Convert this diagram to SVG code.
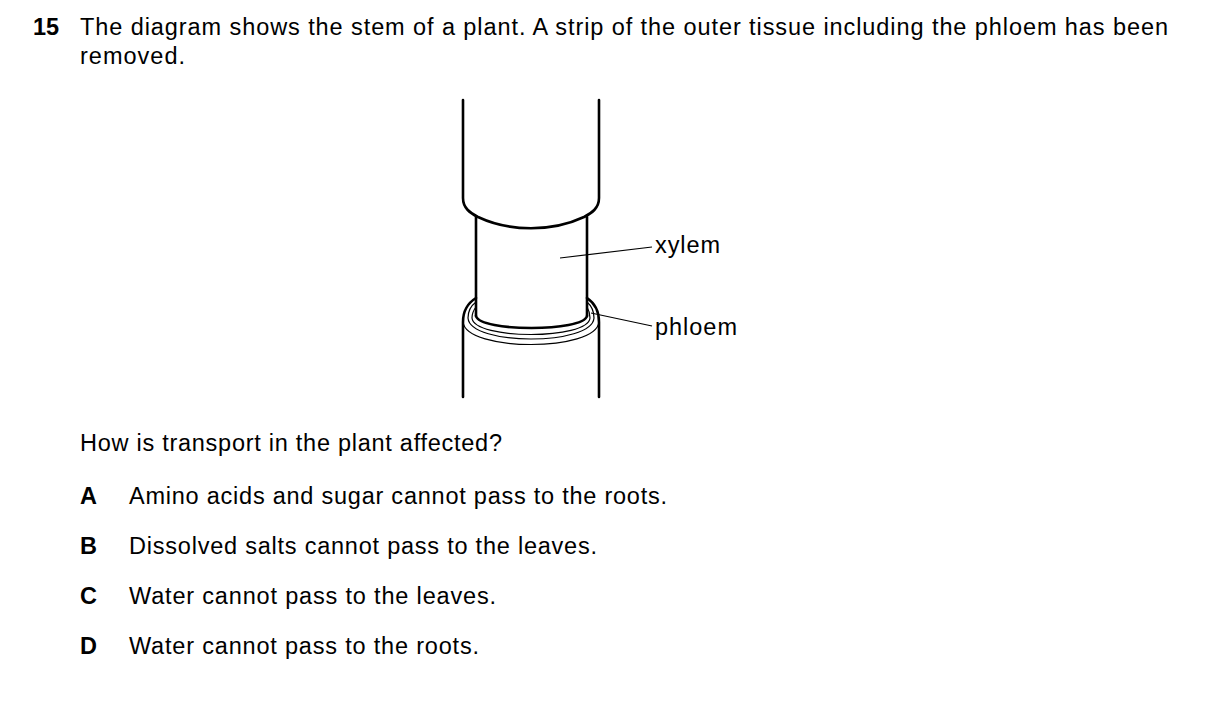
<svg xmlns="http://www.w3.org/2000/svg" width="1209" height="712" viewBox="0 0 1209 712">
<style>
text{font-family:"Liberation Sans",Arial,sans-serif;font-size:23.5px;fill:#000}
.b{font-weight:bold}
.s{fill:none;stroke:#000;stroke-width:2.6;stroke-linecap:round}
.t{fill:none;stroke:#000;stroke-width:1.2}
</style>
<rect width="1209" height="712" fill="#fff"/>
<text x="33" y="35" class="b">15</text>
<text x="80" y="35" textLength="1088" lengthAdjust="spacing">The diagram shows the stem of a plant. A strip of the outer tissue including the phloem has been</text>
<text x="80" y="64" textLength="105" lengthAdjust="spacing">removed.</text>
<g id="stem">
<path class="s" d="M463,100 V198 C463,208 470,213 478,217 C510,232 552,232 584,217 C592,213 599,208 599,198 V100"/>
<path class="s" d="M476,217 V316 M587,217 V316"/>
<path class="s" d="M476,316 C480,332 583,332 587,316"/>
<path class="s" d="M463,397 V322 Q463,306 476,298 M599,397 V322 Q599,306 587,298"/>
<path class="t" d="M463,322 C466,352 596,352 599,322"/>
<path class="t" d="M468,318 C470,346 592,346 594,318 Q594,308 587,302"/>
<path class="t" d="M468,318 Q468,308 476,302"/>
<path class="t" d="M472,318 C474,340 588,340 590,318 Q590,312 587,307"/>
<path class="t" d="M472,318 Q472,312 476,307"/>
</g>
<g id="connectors">
<line class="t" x1="560" y1="258" x2="652" y2="247"/>
<line class="t" x1="591" y1="313" x2="652" y2="326"/>
</g>
<g id="labels">
<text x="655" y="253" textLength="65" lengthAdjust="spacing">xylem</text>
<text x="655" y="335" textLength="82" lengthAdjust="spacing">phloem</text>
</g>
<text x="80" y="451" textLength="422" lengthAdjust="spacing">How is transport in the plant affected?</text>
<text x="80" y="504" class="b">A</text><text x="129" y="504" textLength="538" lengthAdjust="spacing">Amino acids and sugar cannot pass to the roots.</text>
<text x="80" y="554" class="b">B</text><text x="129" y="554" textLength="468" lengthAdjust="spacing">Dissolved salts cannot pass to the leaves.</text>
<text x="80" y="604" class="b">C</text><text x="129" y="604" textLength="367" lengthAdjust="spacing">Water cannot pass to the leaves.</text>
<text x="80" y="654" class="b">D</text><text x="129" y="654" textLength="350" lengthAdjust="spacing">Water cannot pass to the roots.</text>
</svg>
